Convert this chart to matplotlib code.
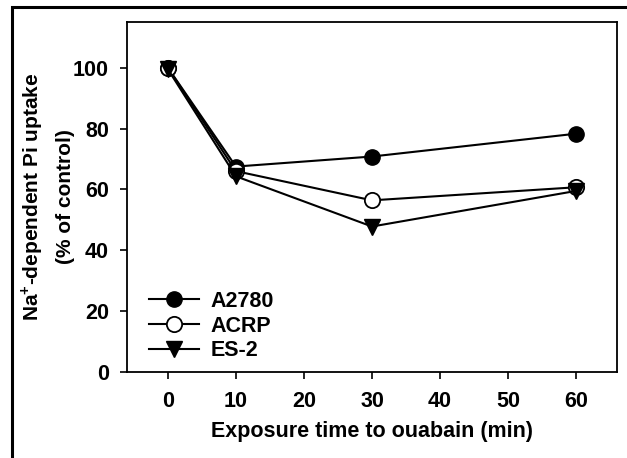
import matplotlib
matplotlib.use("Agg")
import matplotlib.pyplot as plt
from matplotlib.patches import Rectangle

plt.rcParams['font.family'] = ['Liberation Sans', 'DejaVu Sans']
plt.rcParams['font.weight'] = 'bold'
plt.rcParams['mathtext.fontset'] = 'custom'
plt.rcParams['mathtext.bf'] = 'Liberation Sans:bold'
plt.rcParams['mathtext.rm'] = 'Liberation Sans:bold'

time_min = [0, 10, 30, 60]
a2780 = [100, 67.5, 70.8, 78.3]
acrp = [100, 66, 56.4, 60.7]
es2 = [99.5, 64.3, 47.8, 59.5]
x_ticks = [0, 10, 20, 30, 40, 50, 60]
y_ticks = [0, 20, 40, 60, 80, 100]

W, H = 627, 458
fs = 15.5
fig = plt.figure(figsize=(W / 100, H / 100), dpi=100)
ax = fig.add_axes([127 / W, 1 - 372 / H, (617 - 127) / W, (372 - 22) / H])

ms = 11
lw = 1.5
ax.plot(time_min, a2780, color='black', lw=lw, marker='o', ms=ms,
        markerfacecolor='black', markeredgecolor='black', label='A2780', zorder=2)
ax.plot(time_min, acrp, color='black', lw=lw, marker='o', ms=ms,
        markerfacecolor='white', markeredgecolor='black', markeredgewidth=1.3,
        label='ACRP', zorder=3)
ax.plot(time_min, es2, color='black', lw=lw, marker='v', ms=ms + 1,
        markerfacecolor='black', markeredgecolor='black', label='ES-2', zorder=4)

ax.set_xlim(-6, 66)
ax.set_ylim(0, 115)
ax.set_xticks(x_ticks)
ax.set_yticks(y_ticks)
ax.tick_params(axis='both', direction='out', length=5, width=1.2, labelsize=fs,
               top=False, right=False)
ax.tick_params(axis='y', pad=8)
ax.tick_params(axis='x', pad=9)
for lab in ax.get_xticklabels() + ax.get_yticklabels():
    lab.set_fontweight('bold')
for sp in ax.spines.values():
    sp.set_linewidth(1.3)

ax.set_xlabel('Exposure time to ouabain (min)', fontsize=fs, fontweight='bold', labelpad=6)
ax.set_ylabel('Na$^{+}$-dependent Pi uptake\n(% of control)', fontsize=15,
              fontweight='bold', linespacing=1.75)
ax.yaxis.set_label_coords(-0.106, 0.5)

leg = ax.legend(loc='lower left', bbox_to_anchor=(0.045, 0.03), frameon=False,
                fontsize=fs, handlelength=2.3, handletextpad=0.55, labelspacing=0.18,
                borderaxespad=0, borderpad=0)
for t in leg.get_texts():
    t.set_fontweight('bold')

fig.patches.append(Rectangle((12 / W, -0.05), 1.2, 1 - 7 / H + 0.05, transform=fig.transFigure,
                             fill=False, edgecolor='black', linewidth=2.2, zorder=0))

fig.savefig('out.png', dpi=100)
